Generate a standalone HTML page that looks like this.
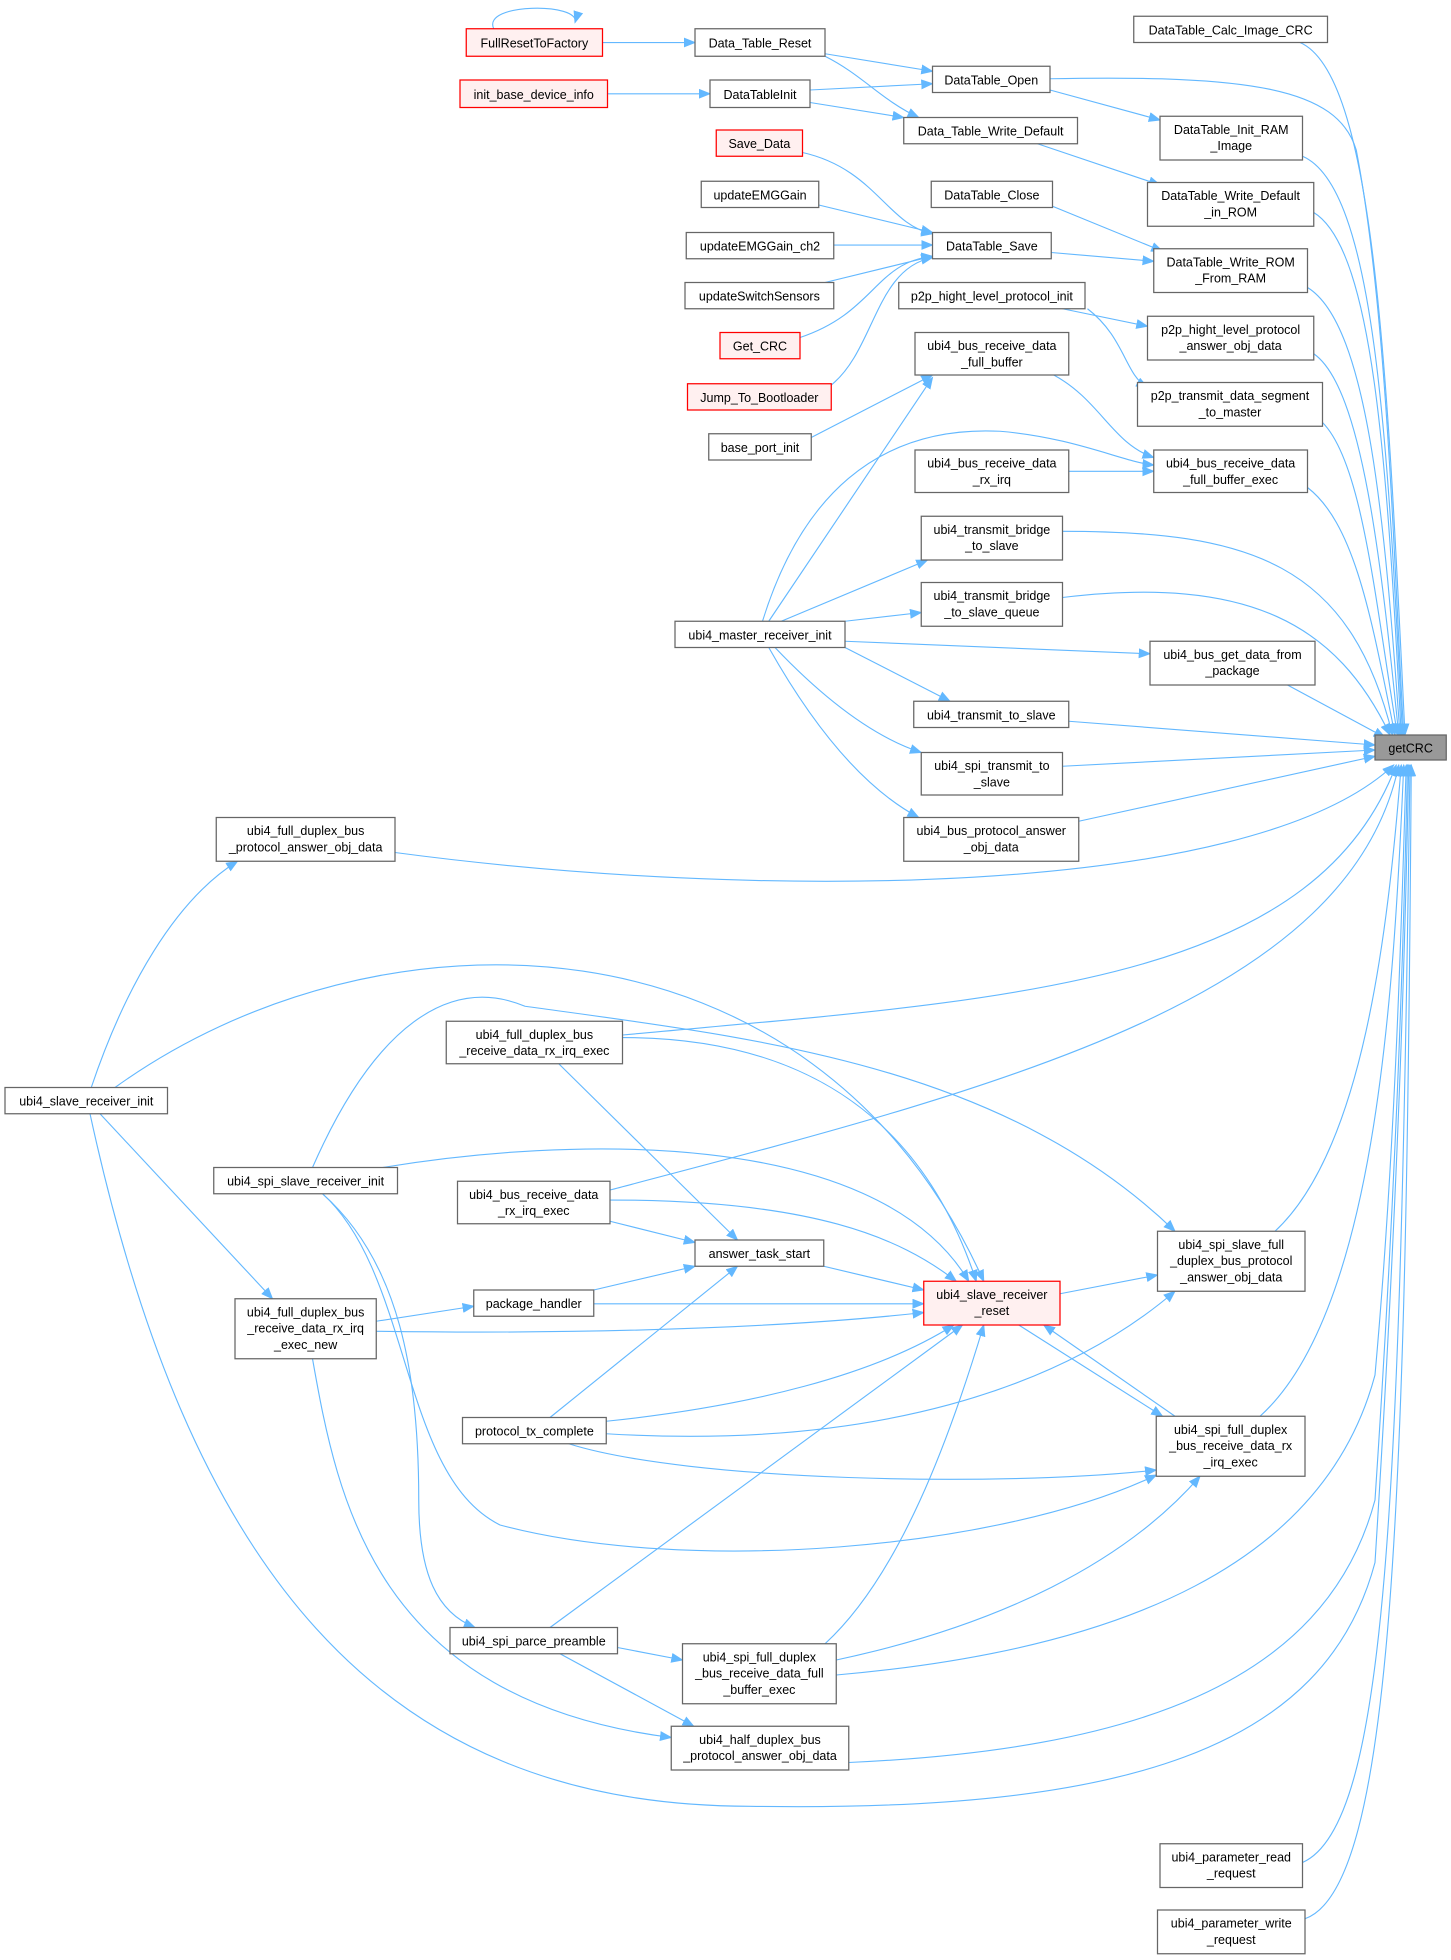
<!DOCTYPE html>
<html><head><meta charset="utf-8"><style>
html,body{margin:0;padding:0;background:#fff;}
svg{display:block;}
text{font-family:"Liberation Sans",sans-serif;font-size:10px;fill:#000;text-anchor:middle;}
.e{fill:none;stroke:#63b8ff;stroke-width:0.9;}
.n{fill:#fff;stroke:#666;stroke-width:1;}
.r{fill:#fff0f0;stroke:#f00;stroke-width:1;}
.g{fill:#999;stroke:#666;stroke-width:1;}
</style></head><body>
<svg width="1451" height="1960" viewBox="0 0 1160.8 1568" xmlns="http://www.w3.org/2000/svg">
<defs><marker id="a" markerWidth="10" markerHeight="8" refX="9" refY="4" orient="auto" markerUnits="userSpaceOnUse"><path d="M0,0 L10,4 L0,8 z" fill="#63b8ff"/></marker></defs>
<g class="e" marker-end="url(#a)">
<!-- top area -->
<path d="M395,23 C385,2 465,2 460,18"/>
<path d="M482,34 L556,34"/>
<path d="M660,43 L746,57"/>
<path d="M660,45 C690,60 705,80 735,94"/>
<path d="M486,75 L568,75"/>
<path d="M648,72 L746,67"/>
<path d="M648,82 L723,94"/>
<path d="M840,72 L928,96"/>
<path d="M830,115 L928,148"/>
<path d="M842,165 L930,201"/>
<path d="M841,202 L923,209"/>
<path d="M642,122 C700,135 710,180 746,187"/>
<path d="M655,164 L746,186"/>
<path d="M667,196 L746,196"/>
<path d="M660,226 L746,205"/>
<path d="M640,270 C700,250 700,210 746,205"/>
<path d="M665,308 C700,280 700,215 746,206"/>
<path d="M850,247 L918,261"/>
<path d="M870,247 C900,270 900,300 918,310"/>
<path d="M843,300 C880,320 890,355 923,366"/>
<path d="M649,350 L746,300"/>
<path d="M855,377 L923,377"/>
<path d="M615,497 L746,302"/>
<path d="M610,497 C640,400 700,340 800,345 C860,350 900,370 923,372"/>
<path d="M625,497 L742,448"/>
<path d="M676,497 L737,490"/>
<path d="M676,513 L920,523"/>
<path d="M676,518 L760,561"/>
<path d="M620,518 C660,560 700,590 737,602"/>
<path d="M615,518 C650,580 690,630 735,654"/>
<!-- to getCRC -->
<path d="M1040,34 C1100,60 1110,300 1124,588"/>
<path d="M840,63 C1000,60 1070,70 1085,120 C1110,250 1115,450 1123,588"/>
<path d="M1042,125 C1100,150 1110,350 1122,588"/>
<path d="M1051,170 C1100,200 1110,380 1121,588"/>
<path d="M1046,230 C1095,260 1108,420 1120,588"/>
<path d="M1051,283 C1090,310 1105,450 1119,588"/>
<path d="M1058,338 C1090,370 1100,480 1118,588"/>
<path d="M1046,390 C1085,420 1098,500 1116,588"/>
<path d="M850,425 C1000,425 1080,450 1114,588"/>
<path d="M850,478 C1000,460 1070,500 1112,588"/>
<path d="M1030,548 L1108,590"/>
<path d="M855,577 L1100,596"/>
<path d="M850,613 L1100,600"/>
<path d="M863,657 L1100,605"/>
<path d="M316,682 C600,720 1000,720 1115,612"/>
<path d="M498,828 C800,800 1050,790 1117,612"/>
<path d="M488,952 C800,870 1080,800 1119,612"/>
<path d="M1020,985 C1090,920 1110,750 1121,612"/>
<path d="M1008,1133 C1100,1050 1115,800 1123,612"/>
<path d="M669,1340 C900,1320 1060,1250 1100,1100 C1118,900 1122,700 1125,612"/>
<path d="M679,1410 C900,1400 1060,1350 1100,1200 C1120,900 1124,700 1126,612"/>
<path d="M72,891 C150,1250 300,1445 600,1445 C900,1450 1060,1400 1100,1250 C1122,900 1125,700 1127,612"/>
<path d="M1042,1490 C1110,1460 1120,1200 1128,612"/>
<path d="M1044,1535 C1115,1510 1125,1200 1129,612"/>
<!-- lower left -->
<path d="M73,870 C100,790 140,720 190,689"/>
<path d="M80,891 L218,1039"/>
<path d="M92,870 C300,720 650,720 787,1025"/>
<path d="M250,934 C300,820 360,780 420,805 C600,830 800,850 940,985"/>
<path d="M306,934 C450,910 700,900 775,1025"/>
<path d="M488,960 C650,960 720,990 765,1025"/>
<path d="M488,977 L556,994"/>
<path d="M447,851 L590,992"/>
<path d="M498,830 C650,830 740,900 781,1025"/>
<path d="M659,1013 L739,1032"/>
<path d="M475,1043 L739,1043"/>
<path d="M475,1032 L556,1013"/>
<path d="M301,1057 L379,1045"/>
<path d="M301,1065 C500,1068 650,1060 739,1050"/>
<path d="M258,955 C320,1010 335,1100 335,1200 C335,1260 350,1290 380,1302"/>
<path d="M258,955 C330,1020 320,1180 400,1220 C550,1260 800,1240 925,1180"/>
<path d="M440,1134 L590,1013"/>
<path d="M485,1137 C600,1125 700,1100 763,1060"/>
<path d="M485,1147 C700,1160 850,1110 940,1033"/>
<path d="M455,1155 C550,1185 800,1190 925,1176"/>
<path d="M440,1302 L770,1060"/>
<path d="M494,1318 L546,1328"/>
<path d="M448,1323 L555,1381"/>
<path d="M660,1315 C720,1260 760,1150 787,1060"/>
<path d="M669,1328 C800,1300 900,1250 960,1181"/>
<path d="M848,1035 L926,1020"/>
<path d="M815,1060 L930,1133"/>
<path d="M940,1133 L835,1060"/>
<path d="M250,1087 C270,1200 300,1360 537,1390"/>
</g>
<!-- nodes -->
<rect class="r" x="373" y="23" width="109" height="22"/><text x="427.5" y="38">FullResetToFactory</text>
<rect class="n" x="556" y="23" width="104" height="22"/><text x="608" y="38">Data_Table_Reset</text>
<rect class="r" x="368" y="64" width="118" height="22"/><text x="427" y="79">init_base_device_info</text>
<rect class="n" x="568" y="64" width="80" height="22"/><text x="608" y="79">DataTableInit</text>
<rect class="n" x="907" y="13" width="155" height="21"/><text x="984.5" y="27.5">DataTable_Calc_Image_CRC</text>
<rect class="n" x="746" y="53" width="94" height="21"/><text x="793" y="67.5">DataTable_Open</text>
<rect class="n" x="723" y="94" width="139" height="21"/><text x="792.5" y="108.5">Data_Table_Write_Default</text>
<rect class="n" x="928" y="93" width="114" height="35"/><text x="985" y="107">DataTable_Init_RAM</text><text x="985" y="120">_Image</text>
<rect class="r" x="573" y="104" width="69" height="21"/><text x="607.5" y="118.5">Save_Data</text>
<rect class="n" x="561" y="145" width="94" height="21"/><text x="608" y="159.5">updateEMGGain</text>
<rect class="n" x="745" y="145" width="97" height="21"/><text x="793.5" y="159.5">DataTable_Close</text>
<rect class="n" x="918" y="146" width="133" height="35"/><text x="984.5" y="160">DataTable_Write_Default</text><text x="984.5" y="173">_in_ROM</text>
<rect class="n" x="549" y="186" width="118" height="21"/><text x="608" y="200.5">updateEMGGain_ch2</text>
<rect class="n" x="746" y="186" width="95" height="21"/><text x="793.5" y="200.5">DataTable_Save</text>
<rect class="n" x="923" y="199" width="123" height="35"/><text x="984.5" y="213">DataTable_Write_ROM</text><text x="984.5" y="226">_From_RAM</text>
<rect class="n" x="548" y="226" width="119" height="21"/><text x="607.5" y="240.5">updateSwitchSensors</text>
<rect class="n" x="719" y="226" width="149" height="21"/><text x="793.5" y="240.5">p2p_hight_level_protocol_init</text>
<rect class="r" x="576" y="266" width="64" height="21"/><text x="608" y="280.5">Get_CRC</text>
<rect class="n" x="732" y="266" width="123" height="34"/><text x="793.5" y="280">ubi4_bus_receive_data</text><text x="793.5" y="293">_full_buffer</text>
<rect class="n" x="918" y="253" width="133" height="35"/><text x="984.5" y="267">p2p_hight_level_protocol</text><text x="984.5" y="280">_answer_obj_data</text>
<rect class="r" x="550" y="307" width="115" height="21"/><text x="607.5" y="321.5">Jump_To_Bootloader</text>
<rect class="n" x="910" y="306" width="148" height="35"/><text x="984" y="320">p2p_transmit_data_segment</text><text x="984" y="333">_to_master</text>
<rect class="n" x="567" y="347" width="82" height="21"/><text x="608" y="361.5">base_port_init</text>
<rect class="n" x="732" y="360" width="123" height="34"/><text x="793.5" y="374">ubi4_bus_receive_data</text><text x="793.5" y="387">_rx_irq</text>
<rect class="n" x="923" y="360" width="123" height="34"/><text x="984.5" y="374">ubi4_bus_receive_data</text><text x="984.5" y="387">_full_buffer_exec</text>
<rect class="n" x="737" y="413" width="113" height="35"/><text x="793.5" y="427">ubi4_transmit_bridge</text><text x="793.5" y="440">_to_slave</text>
<rect class="n" x="737" y="466" width="113" height="35"/><text x="793.5" y="480">ubi4_transmit_bridge</text><text x="793.5" y="493">_to_slave_queue</text>
<rect class="n" x="540" y="497" width="136" height="21"/><text x="608" y="511.5">ubi4_master_receiver_init</text>
<rect class="n" x="920" y="513" width="132" height="35"/><text x="986" y="527">ubi4_bus_get_data_from</text><text x="986" y="540">_package</text>
<rect class="n" x="731" y="561" width="124" height="21"/><text x="793" y="575.5">ubi4_transmit_to_slave</text>
<rect class="g" x="1100" y="588" width="57" height="20"/><text x="1128.5" y="602">getCRC</text>
<rect class="n" x="737" y="602" width="113" height="34"/><text x="793.5" y="616">ubi4_spi_transmit_to</text><text x="793.5" y="629">_slave</text>
<rect class="n" x="723" y="654" width="140" height="35"/><text x="793" y="668">ubi4_bus_protocol_answer</text><text x="793" y="681">_obj_data</text>
<rect class="n" x="173" y="654" width="143" height="35"/><text x="244.5" y="668">ubi4_full_duplex_bus</text><text x="244.5" y="681">_protocol_answer_obj_data</text>
<rect class="n" x="357" y="817" width="141" height="34"/><text x="427.5" y="831">ubi4_full_duplex_bus</text><text x="427.5" y="844">_receive_data_rx_irq_exec</text>
<rect class="n" x="4" y="870" width="130" height="21"/><text x="69" y="884.5">ubi4_slave_receiver_init</text>
<rect class="n" x="171" y="934" width="147" height="21"/><text x="244.5" y="948.5">ubi4_spi_slave_receiver_init</text>
<rect class="n" x="366" y="945" width="122" height="34"/><text x="427" y="959">ubi4_bus_receive_data</text><text x="427" y="972">_rx_irq_exec</text>
<rect class="n" x="556" y="992" width="103" height="21"/><text x="607.5" y="1006.5">answer_task_start</text>
<rect class="n" x="926" y="985" width="118" height="48"/><text x="985" y="999">ubi4_spi_slave_full</text><text x="985" y="1012">_duplex_bus_protocol</text><text x="985" y="1025">_answer_obj_data</text>
<rect class="r" x="739" y="1025" width="109" height="35"/><text x="793.5" y="1039">ubi4_slave_receiver</text><text x="793.5" y="1052">_reset</text>
<rect class="n" x="379" y="1032" width="96" height="21"/><text x="427" y="1046.5">package_handler</text>
<rect class="n" x="188" y="1039" width="113" height="48"/><text x="244.5" y="1053">ubi4_full_duplex_bus</text><text x="244.5" y="1066">_receive_data_rx_irq</text><text x="244.5" y="1079">_exec_new</text>
<rect class="n" x="370" y="1134" width="115" height="21"/><text x="427.5" y="1148.5">protocol_tx_complete</text>
<rect class="n" x="925" y="1133" width="119" height="48"/><text x="984.5" y="1147">ubi4_spi_full_duplex</text><text x="984.5" y="1160">_bus_receive_data_rx</text><text x="984.5" y="1173">_irq_exec</text>
<rect class="n" x="360" y="1302" width="134" height="21"/><text x="427" y="1316.5">ubi4_spi_parce_preamble</text>
<rect class="n" x="546" y="1315" width="123" height="48"/><text x="607.5" y="1329">ubi4_spi_full_duplex</text><text x="607.5" y="1342">_bus_receive_data_full</text><text x="607.5" y="1355">_buffer_exec</text>
<rect class="n" x="537" y="1381" width="142" height="35"/><text x="608" y="1395">ubi4_half_duplex_bus</text><text x="608" y="1408">_protocol_answer_obj_data</text>
<rect class="n" x="928" y="1475" width="114" height="35"/><text x="985" y="1489">ubi4_parameter_read</text><text x="985" y="1502">_request</text>
<rect class="n" x="926" y="1528" width="118" height="35"/><text x="985" y="1542">ubi4_parameter_write</text><text x="985" y="1555">_request</text>
</svg>
</body></html>
